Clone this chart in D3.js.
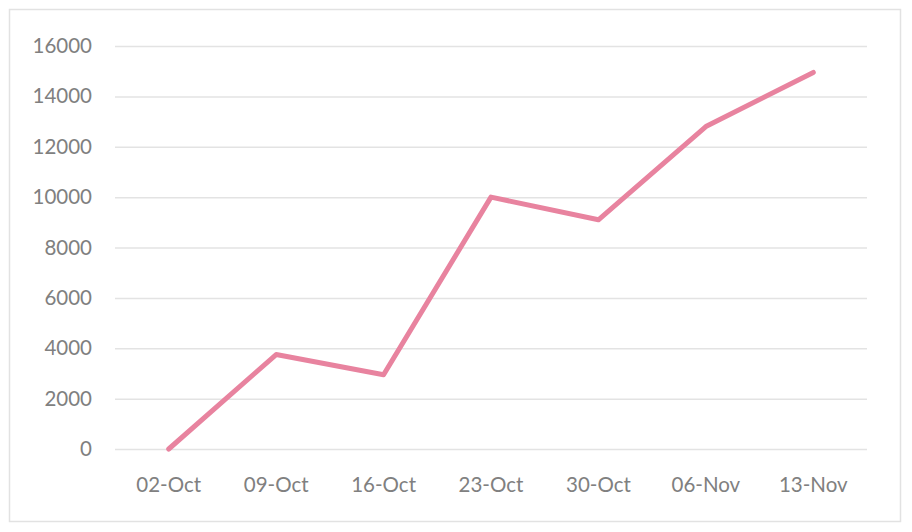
<!DOCTYPE html>
<html><head><meta charset="utf-8">
<script src="https://cdn.jsdelivr.net/npm/d3@7"></script>
<style>body{margin:0;background:#fff;}svg{display:block;}</style>
</head><body>
<svg id="chart" width="912" height="532"></svg>
<script>
const categories = ["02-Oct","09-Oct","16-Oct","23-Oct","30-Oct","06-Nov","13-Nov"];
const values = [0, 3750, 2950, 10000, 9100, 12800, 14950];
const yTicks = [0,2000,4000,6000,8000,10000,12000,14000,16000];

const svg = d3.select("#chart");
svg.append("rect").attr("x",9.5).attr("y",9.5).attr("width",891).attr("height",512)
  .attr("fill","#fff").attr("stroke","#e2e2e2").attr("stroke-width",1.5);

const x = d3.scaleBand().domain(categories).range([115,867]);
const y = d3.scaleLinear().domain([0,16000]).range([449,46]);

const font = "Lato, 'Open Sans', sans-serif";
const yAxis = svg.append("g").attr("transform","translate(115,0)")
  .call(d3.axisLeft(y).tickValues(yTicks).tickSize(-752).tickPadding(23).tickFormat(d3.format("d")));
yAxis.select(".domain").remove();
yAxis.selectAll(".tick line").attr("stroke","#e3e3e3").attr("stroke-width",1.5);
yAxis.selectAll("text").attr("fill","#808080").style("font-family",font).style("font-size","20.5px");

const xAxis = svg.append("g").attr("transform","translate(0,449)")
  .call(d3.axisBottom(x).tickSize(0).tickPadding(28));
xAxis.select(".domain").remove();
xAxis.selectAll("text").attr("fill","#808080").style("font-family",font).style("font-size","20.5px");

const line = d3.line().x((d,i)=>x(categories[i])+x.bandwidth()/2).y(d=>y(d));
svg.append("path").datum(values).attr("d",line).attr("fill","none")
  .attr("stroke","#e8839f").attr("stroke-width",5).attr("stroke-linejoin","round").attr("stroke-linecap","round");
</script>
</body></html>
